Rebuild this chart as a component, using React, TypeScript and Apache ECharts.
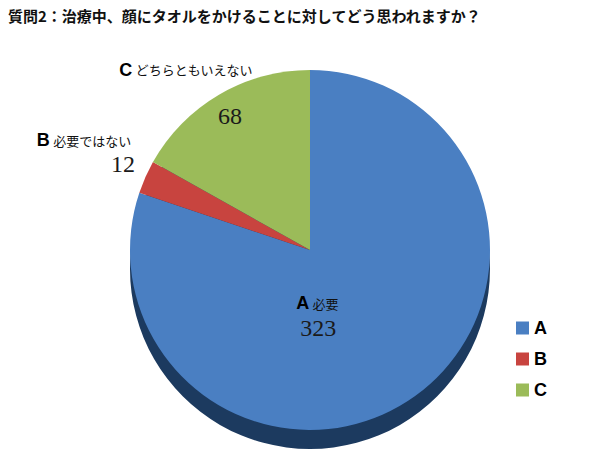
import * as echarts from "echarts";
import React, { useEffect, useRef } from "react";

const categories = ["A", "B", "C"];
const descriptions = ["必要", "必要ではない", "どちらともいえない"];
const counts = [323, 12, 68];
const colors = ["#4a7fc2", "#c8443f", "#9bbb59"];

// label shifts from the default "inside" anchor of each slice
const nameShift = [
  [-47, -22],
  [-141, -72],
  [-77, -100],
];
const valueShift = [
  [-46, 3],
  [-102, -48],
  [-33, -54],
];

const PieChart: React.FC = () => {
  const chartRef = useRef<HTMLDivElement | null>(null);

  useEffect(() => {
    document.body.style.margin = "0";
    const chart = echarts.init(chartRef.current, null, { renderer: "svg" });

    const sliceData = categories.map((name, i) => ({
      name,
      value: counts[i],
      itemStyle: { color: colors[i] },
    }));

    chart.setOption({
      animation: false,
      title: {
        text: "質問2：治療中、顔にタオルをかけることに対してどう思われますか？",
        left: 8,
        top: 8,
        padding: 0,
        textStyle: {
          fontSize: 15,
          fontWeight: "bold",
          color: "#111",
          fontFamily: "Noto Sans CJK JP",
        },
      },
      legend: {
        orient: "vertical",
        left: 511,
        top: 314,
        icon: "rect",
        itemWidth: 13,
        itemHeight: 13,
        itemGap: 13,
        selectedMode: false,
        data: categories.map((name, i) => ({
          name,
          itemStyle: { color: colors[i] },
        })),
        textStyle: {
          fontSize: 18,
          fontWeight: "bold",
          color: "#000",
          fontFamily: "Liberation Sans",
        },
      },
      series: [
        {
          // dark rim under the face of the pie
          name: "rim",
          type: "pie",
          center: [310, 269],
          radius: 180,
          silent: true,
          data: [{ name: "rim", value: 1, itemStyle: { color: "#1c3a5f" } }],
          label: { show: false },
          labelLine: { show: false },
          emphasis: { disabled: true },
        },
        {
          name: "values",
          type: "pie",
          center: [310, 250],
          radius: 180,
          startAngle: 90,
          clockwise: true,
          avoidLabelOverlap: false,
          silent: true,
          emphasis: { disabled: true },
          data: sliceData,
          label: {
            show: true,
            position: "inside",
            formatter: "{c}",
            fontSize: 24,
            color: "#1a1a1a",
            fontFamily: "Liberation Serif",
          },
          labelLine: { show: false },
          labelLayout: (p: any) => ({
            dx: valueShift[p.dataIndex][0],
            dy: valueShift[p.dataIndex][1],
          }),
        },
        {
          name: "names",
          type: "pie",
          center: [310, 250],
          radius: 180,
          startAngle: 90,
          clockwise: true,
          avoidLabelOverlap: false,
          silent: true,
          emphasis: { disabled: true },
          data: sliceData.map((d) => ({
            ...d,
            itemStyle: { color: "rgba(0,0,0,0)" },
          })),
          label: {
            show: true,
            position: "inside",
            formatter: (p: any) =>
              `{n|${p.name}} {t|${descriptions[p.dataIndex]}}`,
            rich: {
              n: {
                fontSize: 18,
                fontWeight: "bold",
                color: "#000",
                fontFamily: "Liberation Sans",
              },
              t: {
                fontSize: 13,
                color: "#111",
                fontFamily: "Noto Sans CJK JP",
              },
            },
          },
          labelLine: { show: false },
          labelLayout: (p: any) => ({
            dx: nameShift[p.dataIndex][0],
            dy: nameShift[p.dataIndex][1],
          }),
        },
      ],
    });

    return () => {
      chart.dispose();
    };
  }, []);

  return <div ref={chartRef} style={{ width: "607px", height: "456px" }}></div>;
};

export default function App() {
  return <PieChart />;
}
